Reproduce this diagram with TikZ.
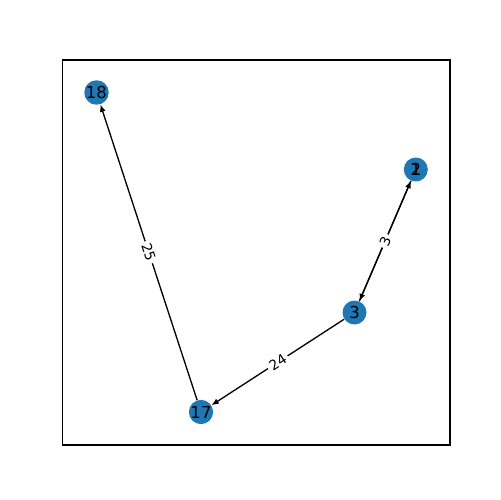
\documentclass[tikz,border=0pt]{standalone}
\usepackage{fontspec}
\setmainfont{DejaVu Sans}
\usetikzlibrary{arrows.meta}
\definecolor{nodeblue}{HTML}{1F77B4}
\begin{document}
\begin{tikzpicture}[x=0.02cm, y=-0.02cm]
        \tikzstyle{vertex}=[circle, fill=nodeblue, inner sep=0pt, minimum size=0.48cm, font=\fontsize{9.4}{10}\selectfont]
        \tikzstyle{edge}=[-{Latex[length=4.2pt, width=3.4pt]}, line width=0.75pt]
        \tikzstyle{weight}=[sloped, fill=white, inner sep=1.5pt, font=\fontsize{7.9}{9}\selectfont]
        \useasboundingbox (0,0) rectangle (500,500);
        \draw[line width=0.6pt] (62.5,60) rectangle (450,445);
        \node [vertex] (n18) at (96.5,92.5) {18};
        \node [vertex] (n17) at (201,412) {17};
        \node [vertex] (n3) at (354.5,312.5) {3};
        \node [vertex] (n2) at (415.8,169.5) {2};
        \node [vertex, fill=none] (n1) at (415.8,169.5) {1};
        \draw [edge] (n3) -- (n2) node [weight, midway] {3};
        \draw [edge] (n1) -- (n3) node [weight, midway] {3};
        \draw [edge] (n3) -- (n17) node [weight, midway] {24};
        \draw [edge] (n17) -- (n18) node [weight, midway] {25};
    \end{tikzpicture}
\end{document}
